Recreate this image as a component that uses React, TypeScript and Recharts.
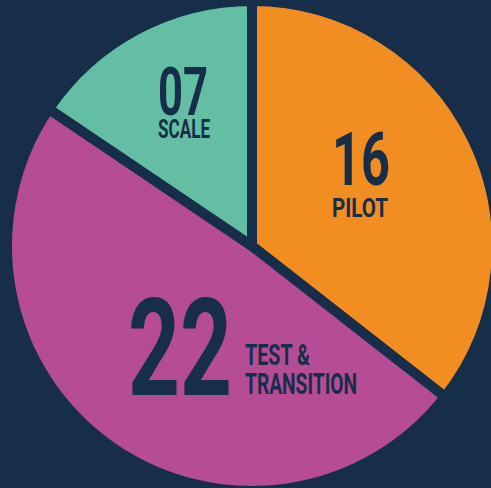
import React from "react";
import { PieChart, Pie, Cell } from "recharts";

const categories = ["Pilot", "Test & Transition", "Scale"];
const values = [16, 22, 7];
const numberLabels = ["16", "22", "07"];
const nameLabels = [["PILOT"], ["TEST &", "TRANSITION"], ["SCALE"]];

const colors = ["#F18D21", "#B54C95", "#63BEA4"];
const NAVY = "#162E4A";

const data = categories.map((c, i) => ({ name: c, value: values[i] }));

const FONT = "Roboto, 'DejaVu Sans', sans-serif";

const renderLabel = (props: any) => {
  const { cx, cy, index } = props;
  const common = {
    fill: NAVY,
    fontFamily: FONT,
    fontWeight: 700,
    lengthAdjust: "spacingAndGlyphs" as const,
  };
  if (index === 0) {
    return (
      <g>
        <text {...common} x={cx + 109} y={cy - 61} fontSize={75} textAnchor="middle" textLength={58}>
          {numberLabels[0]}
        </text>
        <text {...common} x={cx + 108} y={cy - 29} fontSize={25} textAnchor="middle" textLength={56}>
          {nameLabels[0][0]}
        </text>
      </g>
    );
  }
  if (index === 1) {
    return (
      <g>
        <text {...common} x={cx - 124} y={cy + 149} fontSize={136} textAnchor="start" textLength={104}>
          {numberLabels[1]}
        </text>
        <text {...common} x={cx - 7} y={cy + 119} fontSize={30} textAnchor="start" textLength={65}>
          {nameLabels[1][0]}
        </text>
        <text {...common} x={cx - 7} y={cy + 148} fontSize={30} textAnchor="start" textLength={112}>
          {nameLabels[1][1]}
        </text>
      </g>
    );
  }
  return (
    <g>
      <text {...common} x={cx - 69} y={cy - 131} fontSize={67} textAnchor="middle" textLength={50}>
        {numberLabels[2]}
      </text>
      <text {...common} x={cx - 68} y={cy - 108} fontSize={26} textAnchor="middle" textLength={52}>
        {nameLabels[2][0]}
      </text>
    </g>
  );
};

export default function App() {
  return (
    <div
      style={{
        position: "fixed",
        left: 0,
        top: 0,
        width: 491,
        height: 488,
        background: NAVY,
        overflow: "hidden",
      }}
    >
      <PieChart width={491} height={488} margin={{ top: 0, right: 0, bottom: 0, left: 0 }}>
        <Pie
          data={data}
          dataKey="value"
          nameKey="name"
          cx={252}
          cy={246}
          outerRadius={245}
          innerRadius={0}
          startAngle={90}
          endAngle={-270}
          stroke={NAVY}
          strokeWidth={10}
          label={renderLabel}
          labelLine={false}
          isAnimationActive={false}
        >
          {data.map((d, i) => (
            <Cell key={d.name} fill={colors[i]} />
          ))}
        </Pie>
      </PieChart>
    </div>
  );
}
